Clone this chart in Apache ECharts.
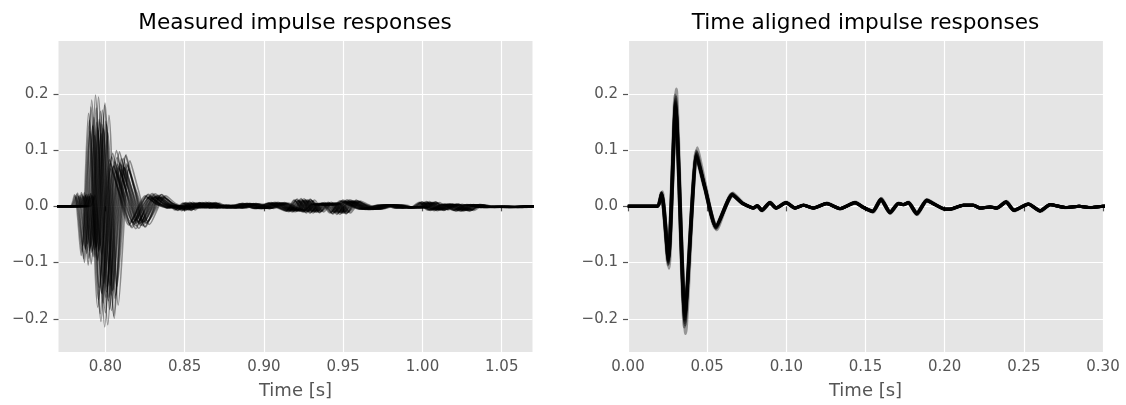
<!DOCTYPE html>
<html>
<head>
<meta charset="utf-8">
<script src="https://cdn.jsdelivr.net/npm/echarts@6/dist/echarts.min.js"></script>
<style>
  html, body { margin: 0; padding: 0; background: #fff; }
  #main { width: 1126px; height: 405px; }
</style>
</head>
<body>
<div id="main"></div>
<script>
// aligned impulse response (time [s], amplitude)
var alignedTime = [0.000, 0.0185, 0.0213, 0.0255, 0.0301, 0.0360, 0.0434, 0.0486, 0.0556, 0.0659,
  0.0720, 0.0770, 0.0792, 0.0817, 0.0845, 0.0897, 0.0935, 0.0998, 0.1055, 0.1108,
  0.1170, 0.1255, 0.1340, 0.1434, 0.1487, 0.1546, 0.1598, 0.1655, 0.1708, 0.1740,
  0.1771, 0.1824, 0.1887, 0.1940, 0.2003, 0.2034, 0.2118, 0.2181, 0.2224, 0.2287,
  0.2329, 0.2388, 0.2438, 0.2529, 0.2603, 0.2666, 0.2761, 0.2850, 0.2920, 0.3000, 0.3120];
var alignedValue = [0.000, 0.000, 0.0224, -0.095, 0.180, -0.195, 0.090, 0.033, -0.036, 0.0206,
  0.006, -0.001, -0.003, 0.001, -0.007, 0.0065, -0.003, 0.0065, -0.003, 0.002,
  -0.003, 0.005, -0.004, 0.0065, -0.002, -0.009, 0.0124, -0.011, 0.005, 0.003,
  0.0065, -0.013, 0.0106, 0.003, -0.005, -0.005, 0.002, 0.002, -0.003, -0.001,
  -0.003, 0.0077, -0.007, 0.004, -0.008, 0.003, -0.002, 0.000, -0.002, 0.000, 0.000];

// per measurement: arrival delay and level as seen in the left panel
var measuredDelay = [0.7592, 0.7597, 0.7601, 0.7607, 0.7612, 0.7617, 0.7620, 0.7626,
  0.7631, 0.7636, 0.7640, 0.7644, 0.7648, 0.7652, 0.7655, 0.7659, 0.7663, 0.7667,
  0.7671, 0.7676, 0.7679, 0.7684, 0.7688, 0.7693, 0.7696, 0.7701, 0.7705, 0.7713, 0.7721];
var measuredGain = [0.92, 0.85, 0.74, 0.98, 1.05, 0.79, 0.80, 0.88, 0.70, 1.10,
  0.97, 0.83, 0.78, 0.75, 1.08, 0.86, 0.83, 0.94, 0.72, 0.81, 0.95, 0.77, 0.76,
  1.00, 1.02, 0.84, 0.81, 0.73, 0.90];
// per measurement after alignment (right panel spread)
var alignedGain = [1.00, 0.96, 1.04, 0.98, 1.10, 0.94, 1.02, 1.16,
  0.99, 1.06, 0.97, 1.01, 0.92, 1.03, 1.08, 0.95];
var alignResidual = [0.0000, 0.0003, -0.0002, 0.0001, -0.0004, 0.0002, -0.0001, 0.0004,
  -0.0003, 0.0000, 0.0002, -0.0002, 0.0003, -0.0001, 0.0001, -0.0003];

var leftTicks = [0.80, 0.85, 0.90, 0.95, 1.00, 1.05];
var rightTicks = [0.00, 0.05, 0.10, 0.15, 0.20, 0.25, 0.30];
var yTicks = [-0.2, -0.1, 0.0, 0.1, 0.2];

var gray = "#555555";
var font = "DejaVu Sans";

function xAxisOf(idx, min, max, ticks) {
  return {
    type: "value", gridIndex: idx, min: min, max: max,
    name: "Time [s]", nameLocation: "middle", nameGap: 30,
    nameTextStyle: { color: gray, fontSize: 18, fontFamily: font },
    axisLine: { show: false },
    axisTick: { show: true, length: 5, lineStyle: { color: gray, width: 1.2 }, customValues: ticks },
    axisLabel: {
      color: gray, fontSize: 15, fontFamily: font, margin: 8, customValues: ticks,
      formatter: function (v) { return v.toFixed(2); }
    },
    splitLine: { show: true, lineStyle: { color: "#ffffff", width: 1.2 } }
  };
}
function yAxisOf(idx) {
  return {
    type: "value", gridIndex: idx, min: -0.259, max: 0.294,
    axisLine: { show: false },
    axisTick: { show: true, length: 5, lineStyle: { color: gray, width: 1.2 }, customValues: yTicks },
    axisLabel: {
      color: gray, fontSize: 15, fontFamily: font, margin: 10, customValues: yTicks,
      formatter: function (v) { return v.toFixed(1).replace("-", "\u2212"); }
    },
    splitLine: { show: true, lineStyle: { color: "#ffffff", width: 1.2 } }
  };
}

var series = [];
measuredDelay.forEach(function (d, i) {
  series.push({
    type: "line", xAxisIndex: 0, yAxisIndex: 0, symbol: "none", silent: true, smooth: 0.25,
    lineStyle: { color: "#000", width: 1.6, opacity: 0.4 },
    data: alignedTime.map(function (t, k) { return [t + d, alignedValue[k] * measuredGain[i]]; })
  });
});
alignedGain.forEach(function (g, i) {
  series.push({
    type: "line", xAxisIndex: 1, yAxisIndex: 1, symbol: "none", silent: true, smooth: 0.2,
    lineStyle: { color: "#000", width: 3, opacity: 0.35 },
    data: alignedTime.map(function (t, k) { return [t + alignResidual[i], alignedValue[k] * g]; })
  });
});

var chart = echarts.init(document.getElementById("main"));
chart.setOption({
  animation: false,
  backgroundColor: "#ffffff",
  grid: [
    { left: 58.5, top: 41, width: 474, height: 313.5, show: true, backgroundColor: "#E5E5E5", borderWidth: 0 },
    { left: 628, top: 41, width: 475, height: 313.5, show: true, backgroundColor: "#E5E5E5", borderWidth: 0 }
  ],
  graphic: [
    { type: "text", x: 295, y: 23, style: { text: "Measured impulse responses", fontSize: 21.6, fontFamily: font, fill: "#000", align: "center", verticalAlign: "middle" } },
    { type: "text", x: 865.5, y: 23, style: { text: "Time aligned impulse responses", fontSize: 21.6, fontFamily: font, fill: "#000", align: "center", verticalAlign: "middle" } }
  ],
  xAxis: [xAxisOf(0, 0.7704, 1.0694, leftTicks), xAxisOf(1, 0, 0.30, rightTicks)],
  yAxis: [yAxisOf(0), yAxisOf(1)],
  series: series
});
</script>
</body>
</html>
